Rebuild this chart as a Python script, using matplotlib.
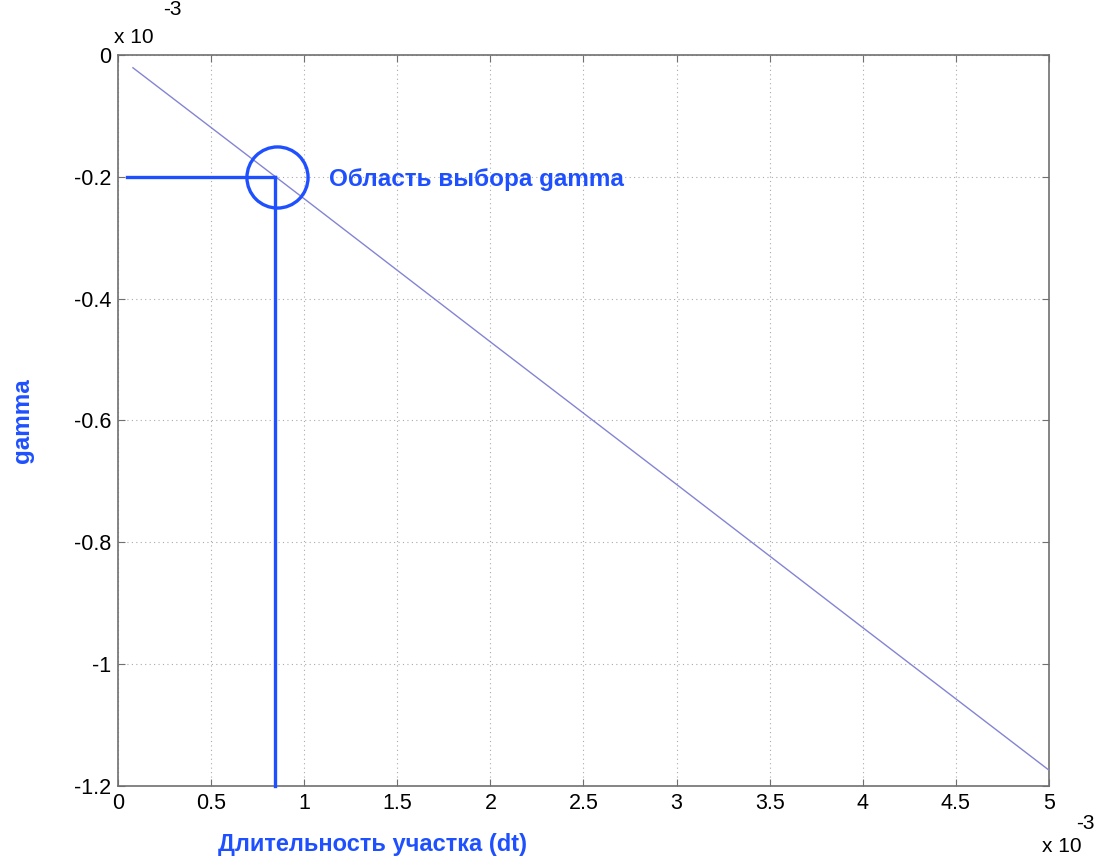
import matplotlib
matplotlib.use("Agg")
import matplotlib.pyplot as plt

plt.rcParams['font.family'] = ['Liberation Sans', 'DejaVu Sans']

# values in units of 1e-3
dt = [0.08, 1.0, 2.0, 3.0, 4.0, 5.0]
gamma = [-0.021, -0.236, -0.471, -0.705, -0.940, -1.174]

# selected point
dt_sel = 0.845
gamma_sel = -0.2

xticks = [0, 0.5, 1, 1.5, 2, 2.5, 3, 3.5, 4, 4.5, 5]
xticklabels = ['0', '0.5', '1', '1.5', '2', '2.5', '3', '3.5', '4', '4.5', '5']
yticks = [0, -0.2, -0.4, -0.6, -0.8, -1.0, -1.2]
yticklabels = ['0', '-0.2', '-0.4', '-0.6', '-0.8', '-1', '-1.2']

blue = '#1e50ff'
grey = '#707070'

fig = plt.figure(figsize=(10.97, 8.59), dpi=100)
ax = fig.add_axes([0.1076, 0.085, 0.8486, 0.851])

ax.plot(dt, gamma, color='#8484d4', lw=1.0, zorder=3)

# selection markers
ax.plot([0.05, dt_sel], [gamma_sel, gamma_sel], color=blue, lw=2.4, zorder=4)
ax.plot([dt_sel, dt_sel], [gamma_sel, -1.2], color=blue, lw=2.4, zorder=4, clip_on=False)
ax.plot([dt_sel + 0.01], [gamma_sel], marker='o', ms=44, mfc='none', mec=blue, mew=2.4, zorder=5)
ax.text(1.135, gamma_sel - 0.004, 'Область выбора gamma', color=blue, fontsize=17.5,
        fontweight='bold', va='center', ha='left')

ax.set_xlim(0, 5)
ax.set_ylim(-1.2, 0)
ax.set_xticks(xticks)
ax.set_xticklabels(xticklabels)
ax.set_yticks(yticks)
ax.set_yticklabels(yticklabels)
ax.tick_params(direction='in', top=True, right=True, labelsize=15.5, length=5,
               color=grey, pad=5)
ax.grid(True, linestyle=(0, (1, 3)), color='#aaaaaa', lw=0.8)
for s in ax.spines.values():
    s.set_color(grey)
    s.set_linewidth(1.2)

ax.set_xlabel('Длительность участка (dt)', color=blue, fontsize=17, fontweight='bold',
              va='center')
ax.set_ylabel('gamma', color=blue, fontsize=17.5, fontweight='bold', va='center')
ax.xaxis.set_label_coords(0.273, -0.08)
ax.yaxis.set_label_coords(-0.103, 0.5)

# exponent labels
fig.text(0.104, 0.945, 'x 10', fontsize=15, ha='left', va='bottom')
fig.text(0.149, 0.978, '-3', fontsize=15, ha='left', va='bottom')
fig.text(0.950, 0.004, 'x 10', fontsize=15, ha='left', va='bottom')
fig.text(0.998, 0.030, '-3', fontsize=15, ha='right', va='bottom')

fig.savefig('out.png', dpi=100, facecolor='white')
